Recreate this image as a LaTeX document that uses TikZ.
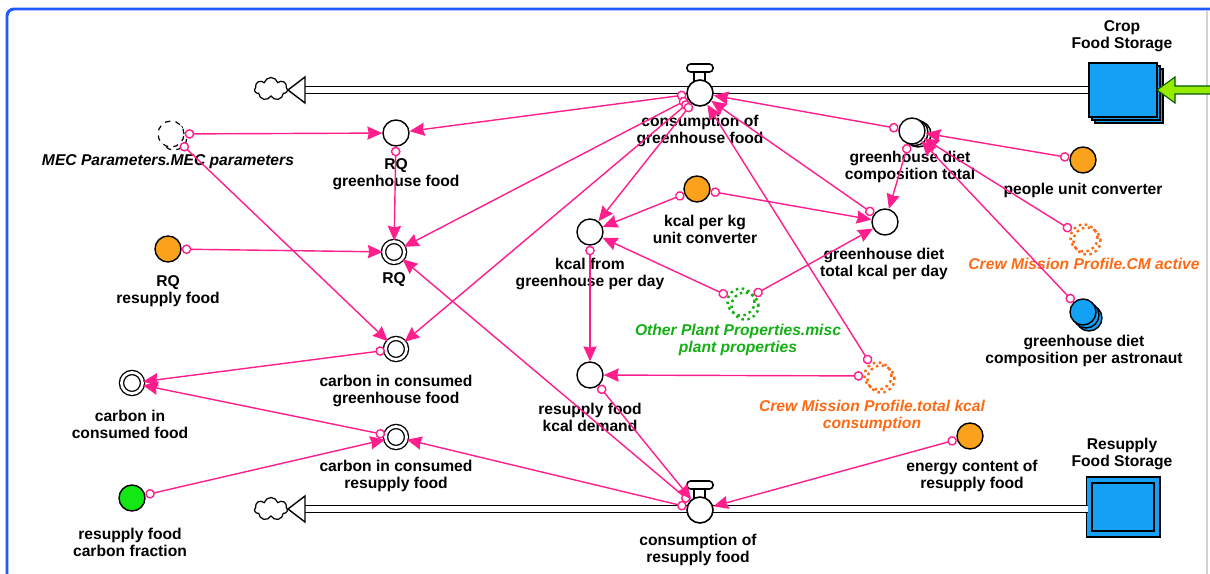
\documentclass[tikz,border=0pt]{standalone}
\usepackage{fontspec}
\setmainfont{Liberation Sans}
\usetikzlibrary{arrows.meta,shapes.symbols}

\definecolor{pinkline}{RGB}{255,30,140}
\definecolor{orangefill}{RGB}{250,162,28}
\definecolor{greenfill}{RGB}{20,232,20}
\definecolor{bluefill}{RGB}{20,160,245}
\definecolor{ghostorange}{RGB}{255,105,20}
\definecolor{ghostgreen}{RGB}{20,175,20}
\definecolor{frameblue}{RGB}{30,90,255}
\definecolor{flowgreen}{RGB}{150,235,0}

\begin{document}
\begin{tikzpicture}[x=0.02cm, y=-0.02cm,
  txt/.style={font=\fontsize{8.9}{9.7}\selectfont\bfseries, align=center, inner sep=0pt},
  ghosttxt/.style={txt, font=\fontsize{8.9}{9.7}\selectfont\bfseries\itshape},
  auxc/.style={circle, draw, fill=white, line width=0.8pt, minimum size=0.52cm, inner sep=0pt},
  dbl/.style={circle, draw, fill=white, double, double distance=1.6pt, line width=0.75pt, minimum size=0.42cm, inner sep=0pt},
  orng/.style={auxc, fill=orangefill},
  grn/.style={auxc, fill=greenfill},
  blu/.style={auxc, fill=bluefill},
  ghost/.style={circle, draw=#1, dotted, line width=1.4pt, minimum size=0.54cm, inner sep=0pt},
  stock/.style={rectangle, draw, fill=bluefill, line width=0.8pt, minimum width=1.36cm, minimum height=1.08cm},
  sink/.style={cloud, draw, cloud puffs=7, fill=white, line width=0.7pt, minimum width=0.66cm, minimum height=0.46cm, inner sep=0pt},
  link/.style={pinkline, line width=0.8pt, {Circle[fill=white,length=5.5pt]}-{Stealth[length=8.5pt,width=7.5pt,inset=0.8pt]}},
  pipe/.style={double=white, double distance=3pt, line width=0.8pt}]
\useasboundingbox (0,0) rectangle (1210,574);

% frame
\draw[frameblue, line width=1.7pt, rounded corners=4pt] (7,600) -- (7,9) -- (1230,9);
\draw[gray!35, line width=0.8pt] (1207,11) -- (1207,574);

% stocks
\foreach \d in {6,3}
  \draw[fill=bluefill, line width=0.8pt] (1089+\d,63+\d) rectangle (1157+\d,117+\d);
\node[stock] (crop) at (1123,90) {};
\node[stock, double=bluefill, double distance=2.4pt] (res) at (1123,507) {};
\node[txt] (crop-t) at (1122,36) {Crop\\Food Storage};
\node[txt] (res-t) at (1122,454) {Resupply\\Food Storage};
\draw[fill=flowgreen, draw=green!35!black, line width=0.6pt]
  (1157,90) -- (1175,77) -- (1175,86) -- (1212,86) -- (1212,94) -- (1175,94) -- (1175,103) -- cycle;

% flows
\coordinate (endgh) at (305,90);
\coordinate (endres) at (305,509);
\draw[pipe] (crop.west) -- (endgh);
\draw[pipe] (res.west |- endres) -- (endres);
\node[sink] (cloudgh) at (271,89) {};
\node[sink] (cloudres) at (271,509) {};
\draw[fill=white, line width=0.8pt] (305,77) -- (288,90) -- (305,103) -- cycle;
\draw[fill=white, line width=0.8pt] (305,496) -- (288,509) -- (305,522) -- cycle;

% valves
\foreach \y in {0,417}{
  \draw[fill=white, line width=0.8pt] (694,71+\y) rectangle (705,81+\y);
  \draw[fill=white, line width=0.9pt, rounded corners=2pt] (687,64+\y) rectangle (713,72+\y);
}
\node[auxc, line width=0.9pt] (vgh) at (700,93) {};
\node[auxc, line width=0.9pt] (vres) at (700,510) {};
\node[txt] (vgh-t) at (700,131) {consumption of\\greenhouse food};
\node[txt] (vres-t) at (698,550) {consumption of\\resupply food};

% stacked copies
\foreach \d in {6,3}{
  \draw[fill=bluefill, line width=0.8pt] (1083+\d,312+\d) circle[radius=0.26cm];
  \draw[fill=white, line width=0.8pt] (912+\d,131+\d/2) circle[radius=0.26cm];
}
\draw[dashed, line width=0.7pt] (174,137) circle[radius=0.26cm];
\draw[ghostgreen, dotted, line width=1.4pt] (745,306) circle[radius=0.27cm];
\draw[ghostorange, dotted, line width=1.4pt] (1087,241) circle[radius=0.27cm];
\draw[ghostorange, dotted, line width=1.4pt] (881,379) circle[radius=0.27cm];

% variables
\foreach \n/\x/\y in {rqgh/396/133, kcalgh/590/232, dietcomp/912/131, dietkcal/885/222, demand/590/375}
  \node[auxc] (\n) at (\x,\y) {};
\foreach \n/\x/\y in {rq/394/252, cgh/396/349, cfood/132/383, cres/396/437}
  \node[dbl] (\n) at (\x,\y) {};
\foreach \n/\x/\y in {rqres/168/249, kcalkg/697/189, people/1083/160, energy/970/436}
  \node[orng] (\n) at (\x,\y) {};
\node[grn] (rfcf) at (132,498) {};
\node[blu] (astro) at (1083,312) {};
\node[circle, draw, fill=white, dashed, line width=0.7pt, minimum size=0.52cm, inner sep=0pt] (mec) at (171,134) {};
\node[ghost=ghostgreen] (plant) at (741,302) {};
\node[ghost=ghostorange] (cmactive) at (1084,238) {};
\node[ghost=ghostorange] (totkcal) at (878,376) {};

% names
\foreach \n/\x/\y/\t in {rqgh-t/396/174/{RQ\\greenhouse food}, rq-t/394/280/{RQ},
    rqres-t/168/291/{RQ\\resupply food}, cgh-t/396/391/{carbon in consumed\\greenhouse food},
    cfood-t/130/424/{carbon in\\consumed food}, cres-t/396/476/{carbon in consumed\\resupply food},
    rfcf-t/130/542/{resupply food\\carbon fraction}, kcalkg-t/705/229/{kcal per kg\\unit converter},
    kcalgh-t/590/274/{kcal from\\greenhouse per day}, dietcomp-t/910/167/{greenhouse diet\\composition total},
    dietkcal-t/884/264/{greenhouse diet\\total kcal per day}, people-t/1083/190/{people unit converter},
    astro-t/1084/351/{greenhouse diet\\composition per astronaut}, demand-t/590/417/{resupply food\\kcal demand},
    energy-t/972/476/{energy content of\\resupply food}}
  \node[txt] (\n) at (\x,\y) {\t};
\node[ghosttxt] (mec-t) at (168,162) {MEC Parameters.MEC parameters};
\node[ghosttxt, text=ghostgreen] (plant-t) at (738,340) {Other Plant Properties.misc\\plant properties};
\node[ghosttxt, text=ghostorange] (cmactive-t) at (1084,264) {Crew Mission Profile.CM active};
\node[ghosttxt, text=ghostorange] (totkcal-t) at (872,416) {Crew Mission Profile.total kcal\\consumption};

% connectors
\foreach \a/\b in {mec/rqgh, mec/cgh, vgh/rqgh, vgh/rq, vgh/cgh, vgh/kcalgh,
    dietcomp/vgh, dietkcal/vgh, totkcal/vgh, rqgh/rq, rqres/rq, vres/rq, vres/cres,
    demand/vres, energy/vres, kcalkg/kcalgh, kcalkg/dietkcal, plant/kcalgh,
    plant/dietkcal, kcalgh/demand, totkcal/demand, cgh/cfood, cres/cfood,
    rfcf/cres, people/dietcomp, cmactive/dietcomp, astro/dietcomp, dietcomp/dietkcal}
  \draw[link] (\a) -- (\b);
\end{tikzpicture}
\end{document}
